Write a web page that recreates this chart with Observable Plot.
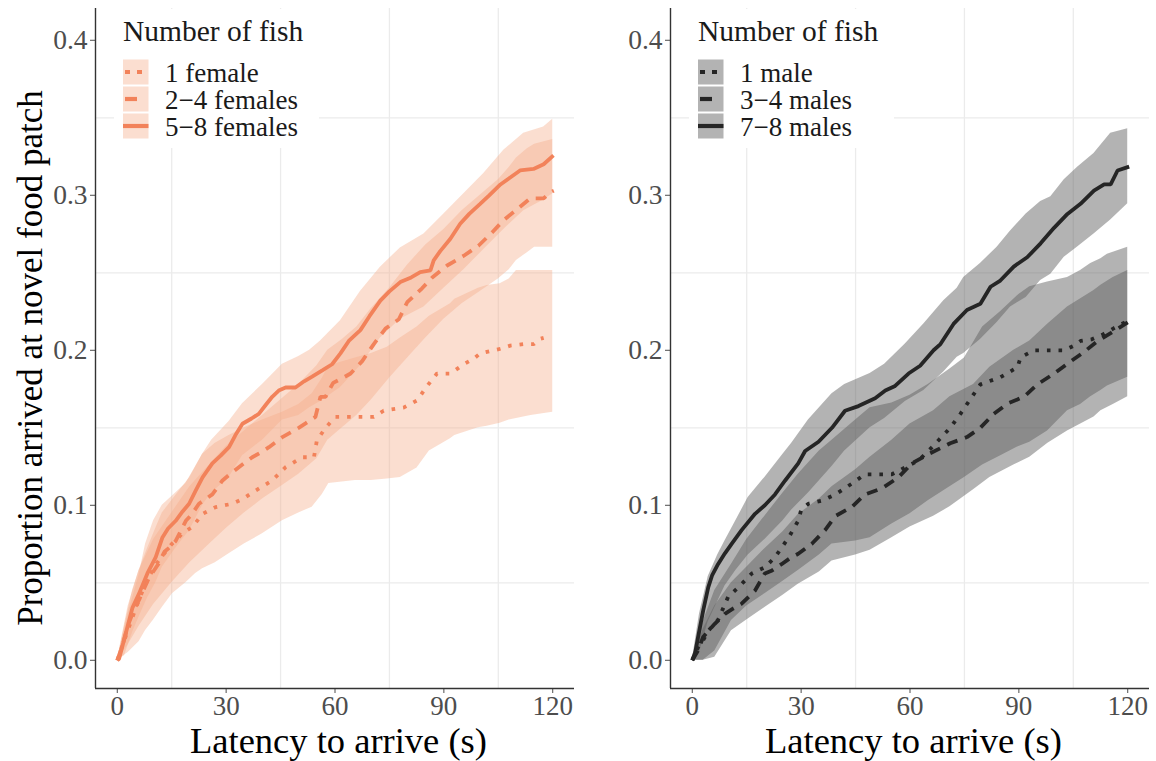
<!DOCTYPE html>
<html>
<head>
<meta charset="utf-8">
<script src="https://cdn.jsdelivr.net/npm/d3@7"></script>
<script src="https://cdn.jsdelivr.net/npm/@observablehq/plot@0.6"></script>
<style>
  html, body { margin: 0; padding: 0; background: #fff; }
  #chart { position: relative; width: 1156px; height: 761px; overflow: hidden; background: #fff; }
  #chart svg { position: absolute; top: 0; }
</style>
</head>
<body>
<div id="chart"></div>
<script>
// ---------- tick / label data ----------
const xTicks = [0, 30, 60, 90, 120];
const yTicks = [0, 0.1, 0.2, 0.3, 0.4];
const xMinorGrid = [15, 45, 75, 105];
const yMinorGrid = [0.05, 0.15, 0.25, 0.35];
const legendTitle = "Number of fish";
const femaleLabels = ["1 female", "2\u22124 females", "5\u22128 females"];
const maleLabels = ["1 male", "3\u22124 males", "7\u22128 males"];
const xTitle = "Latency to arrive (s)";
const yTitle = "Proportion arrived at novel food patch";

// ---------- female series: [time, proportion] ----------
const female1Line = [[0,0],[1.5,0.01],[3,0.02],[5,0.033],[7,0.045],[9,0.055],[11,0.063],[13.3,0.07],[15,0.075],[16.4,0.078],[18,0.082],[20.7,0.086],[23.5,0.0945],[27.1,0.0988],[31.7,0.101],[34.5,0.104],[38.1,0.1095],[42.7,0.116],[46.4,0.1246],[51,0.131],[54.2,0.131],[55,0.1418],[57.4,0.15],[60.1,0.157],[66,0.157],[70.7,0.157],[73.4,0.161],[78.9,0.163],[82.6,0.1676],[85.4,0.177],[88.1,0.185],[91.8,0.185],[95.5,0.191],[98.2,0.1945],[100,0.198],[105.6,0.201],[108.3,0.203],[112,0.204],[114.8,0.204],[116.6,0.2074],[117.5,0.208]];
const female24Line = [[0,0],[1.5,0.01],[3,0.023],[4.5,0.032],[6.2,0.04],[8.7,0.053],[11.3,0.062],[13,0.07],[14.5,0.073],[16.1,0.077],[18.9,0.09],[20.5,0.094],[22.5,0.101],[26.2,0.107],[29,0.116],[31,0.12],[33.5,0.1246],[37.2,0.131],[39.5,0.134],[41.8,0.1375],[45.5,0.144],[50,0.15],[52,0.153],[54.6,0.157],[56,0.17],[57.4,0.17],[59.5,0.179],[62,0.182],[64.3,0.185],[67.5,0.193],[70.7,0.204],[73.9,0.214],[77.6,0.22],[79.9,0.231],[84,0.24],[86.8,0.247],[90.9,0.2547],[95.5,0.261],[99.6,0.2676],[103.3,0.276],[106.5,0.284],[110.2,0.291],[113.8,0.298],[117.5,0.298],[119.3,0.302],[120.3,0.303]];
const female58Line = [[0,0],[0.5,0.001],[2.3,0.017],[4.2,0.034],[6,0.043],[8.3,0.056],[10.6,0.0665],[12.4,0.079],[14,0.085],[16.1,0.09],[18,0.096],[19.8,0.101],[21.5,0.109],[23.5,0.118],[26.2,0.127],[28.5,0.132],[30.8,0.1375],[32.5,0.145],[34.5,0.1526],[37,0.156],[39,0.159],[41,0.165],[42.7,0.17],[44.5,0.174],[46.4,0.176],[49.1,0.176],[51.5,0.18],[53.7,0.183],[56.5,0.187],[59.2,0.191],[61.5,0.198],[63.8,0.206],[67,0.213],[69.5,0.222],[72.5,0.232],[75,0.238],[78,0.244],[81,0.247],[83.5,0.2504],[86.3,0.2515],[87.2,0.258],[89,0.264],[91.8,0.272],[94.5,0.2816],[97,0.288],[100,0.2945],[102.5,0.3],[105.6,0.307],[108,0.311],[111,0.316],[114.7,0.317],[117.5,0.32],[120.2,0.3257]];

// bands: [time, lower, upper]
const female1Band = [[0,0,0],[3,0.005,0.03],[6,0.012,0.055],[7.8,0.0192,0.075],[10,0.026,0.09],[12.4,0.034,0.1],[15.2,0.043,0.106],[18.9,0.05,0.114],[21.6,0.056,0.125],[23.5,0.059,0.133],[27,0.063,0.14],[30.8,0.0687,0.145],[35,0.075,0.15],[40,0.0816,0.155],[45.5,0.09,0.16],[50,0.095,0.165],[53.7,0.0988,0.172],[56.5,0.107,0.182],[58.3,0.114,0.19],[65.6,0.116,0.195],[70,0.116,0.198],[74.4,0.117,0.202],[78,0.118,0.208],[82.6,0.124,0.215],[86,0.135,0.222],[91.8,0.143,0.23],[93,0.145,0.233],[99.5,0.15,0.24],[101.9,0.151,0.2418],[105.5,0.153,0.243],[108,0.155,0.246],[110,0.156,0.2515],[114,0.158,0.2515],[120,0.16,0.2515]];
const female24Band = [[0,0,0],[3,0.01,0.035],[6,0.022,0.058],[10,0.036,0.078],[15,0.05,0.095],[20,0.063,0.112],[25,0.074,0.125],[30,0.085,0.138],[35,0.095,0.148],[40,0.104,0.158],[45,0.112,0.168],[50,0.12,0.178],[55,0.13,0.19],[58,0.142,0.2],[62,0.15,0.207],[66,0.158,0.215],[70,0.168,0.227],[75,0.182,0.24],[80,0.195,0.255],[85,0.208,0.268],[90,0.22,0.278],[95,0.23,0.29],[100,0.238,0.3],[105,0.246,0.31],[108,0.252,0.318],[110,0.258,0.324],[113,0.263,0.33],[115,0.2665,0.333],[120,0.2665,0.336]];
const female58Band = [[0,0,0],[2,0.003,0.022],[4.2,0.018,0.045],[6,0.028,0.058],[8.3,0.04,0.072],[10.6,0.05,0.085],[12.4,0.06,0.095],[16,0.072,0.106],[20,0.084,0.118],[23.5,0.1,0.133],[26,0.108,0.142],[30.8,0.118,0.154],[34.5,0.132,0.1655],[40,0.142,0.178],[45.5,0.155,0.191],[50,0.158,0.196],[53,0.163,0.2],[56,0.167,0.206],[61.5,0.176,0.219],[67,0.19,0.238],[72.5,0.208,0.2536],[78,0.22,0.266],[84.5,0.228,0.275],[90,0.24,0.288],[95.5,0.252,0.301],[101,0.265,0.314],[106.5,0.278,0.329],[112,0.29,0.34],[117.5,0.297,0.344],[120,0.301,0.349]];

// ---------- male series ----------
const male1Line = [[0,0],[1.5,0.008],[3,0.013],[4.4,0.019],[7.1,0.026],[9.9,0.041],[12.7,0.047],[16.4,0.056],[20,0.06],[22.8,0.0665],[26.5,0.079],[29.2,0.09],[30,0.097],[32,0.101],[35.7,0.103],[39.4,0.107],[44,0.114],[47.6,0.12],[51.3,0.12],[55,0.12],[58.7,0.1245],[62.4,0.129],[66.1,0.1375],[71.1,0.15],[73.9,0.159],[79.4,0.178],[84.9,0.1826],[89.6,0.189],[90.5,0.1955],[94.2,0.2],[99.7,0.2],[102.5,0.2],[105.2,0.203],[107,0.206],[110,0.207],[113,0.21],[116,0.214],[120,0.219]];
const male34Line = [[0,0],[1.5,0.006],[3,0.015],[6.2,0.0235],[9,0.03],[11,0.033],[13.6,0.0365],[17.3,0.045],[20,0.056],[22,0.058],[24.6,0.062],[27,0.066],[29.2,0.0687],[32.9,0.075],[36.6,0.084],[39.4,0.093],[44,0.099],[47.6,0.107],[52.3,0.111],[56.8,0.118],[60.5,0.127],[65.1,0.133],[71.1,0.14],[75.7,0.144],[79.4,0.15],[83.1,0.159],[86.8,0.1655],[91.4,0.17],[95.1,0.178],[99.7,0.185],[103.8,0.192],[108,0.199],[111.7,0.206],[115.3,0.211],[120,0.218]];
const male78Line = [[0,0],[0.8,0.005],[1.6,0.015],[3,0.032],[4.4,0.047],[5.5,0.055],[7.1,0.062],[9,0.069],[10.8,0.075],[13.6,0.084],[17.3,0.0945],[20,0.1],[22.8,0.107],[25.6,0.116],[29.2,0.127],[31.1,0.135],[34.8,0.141],[38.5,0.15],[42.1,0.161],[45.8,0.164],[50.4,0.169],[53.2,0.174],[55.9,0.177],[59.6,0.185],[62.8,0.19],[66.5,0.2],[68.4,0.204],[72,0.217],[75.7,0.226],[79.4,0.23],[82.2,0.241],[84.9,0.245],[88.6,0.254],[92.3,0.26],[96,0.269],[99.7,0.279],[103.4,0.288],[107,0.2945],[110.7,0.303],[113.5,0.307],[115.3,0.307],[117.2,0.316],[120.4,0.3185]];

const male1Band = [[0,0,0],[3,0,0.025],[6.2,0.006,0.045],[10.8,0.0257,0.062],[15,0.035,0.078],[20,0.043,0.093],[25,0.051,0.108],[29.2,0.058,0.12],[35,0.068,0.135],[38.5,0.075,0.142],[45,0.077,0.155],[49,0.079,0.163],[55,0.088,0.166],[60,0.0945,0.171],[65,0.103,0.178],[71,0.112,0.188],[75,0.118,0.195],[80,0.126,0.215],[85,0.132,0.225],[90,0.138,0.236],[93,0.1407,0.241],[97.9,0.148,0.244],[103.4,0.161,0.247],[107,0.165,0.2515],[109.8,0.17,0.256],[112.6,0.174,0.259],[114.4,0.177,0.262],[120,0.1826,0.2665]];
const male34Band = [[0,0,0],[3,0,0.02],[6.2,0.002,0.035],[10.8,0.019,0.05],[15,0.026,0.06],[20,0.034,0.072],[25,0.042,0.083],[29.2,0.049,0.094],[35,0.057,0.104],[38.5,0.064,0.112],[45,0.068,0.123],[49,0.071,0.131],[55,0.079,0.142],[60,0.086,0.1525],[66.5,0.093,0.161],[71,0.099,0.17],[77.5,0.11,0.178],[82,0.118,0.189],[88.6,0.126,0.2],[93,0.131,0.206],[98,0.14,0.217],[103.4,0.148,0.228],[110.7,0.157,0.2385],[112.6,0.161,0.242],[116,0.165,0.247],[120,0.17,0.2515]];
const male78Band = [[0,0,0],[2,0.005,0.03],[4.4,0.025,0.054],[7,0.038,0.068],[9,0.048,0.077],[12,0.058,0.09],[15.4,0.068,0.105],[20,0.078,0.118],[25,0.09,0.133],[27.4,0.097,0.14],[32,0.108,0.155],[38.5,0.125,0.172],[42,0.135,0.178],[49,0.15,0.185],[53,0.156,0.191],[58.7,0.167,0.204],[63.8,0.174,0.217],[69.3,0.186,0.232],[73,0.1955,0.24],[74.8,0.198,0.247],[79.4,0.207,0.256],[84,0.218,0.2665],[87.7,0.228,0.277],[92,0.234,0.288],[96,0.245,0.296],[98.8,0.249,0.299],[102.5,0.26,0.31],[106.1,0.2665,0.318],[110.7,0.275,0.327],[115.3,0.284,0.34],[120,0.2945,0.343]];

// ---------- drawing ----------
const FONT = "'Liberation Serif', 'Times New Roman', serif";
const lineDash = ["3.6,8", "11,8", null];
const keyDash = [{d: "5,7", off: -2}, {d: "12,30", off: -2}, {d: null, off: 0}];

function toLine(arr) { return arr.map(([t, v]) => ({t, v})); }
function toBand(arr) { return arr.map(([t, lo, hi]) => ({t, lo, hi})); }

function makePanel(cfg) {
  const marks = [
    Plot.ruleX(xMinorGrid, {stroke: "#ebebeb", strokeWidth: 1.3}),
    Plot.ruleY(yMinorGrid, {stroke: "#ebebeb", strokeWidth: 1.3}),
  ];
  cfg.bands.forEach(b => marks.push(
    Plot.areaY(toBand(b), {x: "t", y1: "lo", y2: "hi", fill: cfg.bandFill, fillOpacity: cfg.bandOpacity})
  ));
  cfg.lines.forEach((l, i) => marks.push(
    Plot.line(toLine(l), {x: "t", y: "v", stroke: cfg.lineColor, strokeWidth: 3.8,
      strokeDasharray: lineDash[i] || undefined, strokeLinecap: "butt", strokeLinejoin: "miter"})
  ));
  marks.push(
    Plot.axisX({ticks: xTicks, tickSize: 5, tickPadding: 2, fontSize: 27, color: "#4d4d4d", label: null}),
    Plot.axisY({ticks: yTicks, tickFormat: d3.format(".1f"), tickSize: 5, tickPadding: 3, fontSize: 27.5, color: "#4d4d4d", label: null}),
    Plot.ruleX([-6], {stroke: "#333333", strokeWidth: 1.4}),
    Plot.ruleY([-0.0182], {stroke: "#333333", strokeWidth: 1.4})
  );
  const svg = Plot.plot({
    width: cfg.width,
    height: 761,
    marginLeft: 95,
    marginRight: cfg.marginRight,
    marginTop: 8,
    marginBottom: 73,
    x: {domain: [-6, 126]},
    y: {domain: [-0.0182, 0.4205]},
    style: {fontFamily: FONT, fontSize: "27px", background: "transparent", overflow: "visible"},
    marks
  });
  svg.style.left = cfg.left + "px";

  const s = d3.select(svg);
  // x axis title
  const cx = 95 + (cfg.width - 95 - cfg.marginRight) / 2;
  s.append("text").attr("x", cx + 4).attr("y", 753)
    .attr("text-anchor", "middle").attr("font-family", FONT).attr("font-size", 36.5)
    .attr("fill", "#000").text(xTitle);
  if (cfg.yTitle) {
    s.append("text").attr("transform", "translate(42,358) rotate(-90)")
      .attr("text-anchor", "middle").attr("font-family", FONT).attr("font-size", 35)
      .attr("fill", "#000").text(yTitle);
  }
  // legend
  const g = s.append("g").attr("text-anchor", "start");
  g.append("rect").attr("x", 114).attr("y", 9).attr("width", 205).attr("height", 139).attr("fill", "#fff");
  g.append("text").attr("x", 123).attr("y", 41).attr("text-anchor", "start").attr("font-family", FONT).attr("font-size", 29.5)
    .attr("fill", "#1a1a1a").text(legendTitle);
  cfg.labels.forEach((lab, i) => {
    const top = 59.5 + 27 * i;
    const cy = top + 12.5;
    g.append("rect").attr("x", 123).attr("y", top).attr("width", 25.5).attr("height", 25)
      .attr("fill", cfg.bandFill).attr("fill-opacity", cfg.bandOpacity);
    const ln = g.append("line").attr("x1", 123).attr("x2", 148.5).attr("y1", cy).attr("y2", cy)
      .attr("stroke", cfg.lineColor).attr("stroke-width", 4.2).attr("stroke-linecap", "butt");
    if (keyDash[i].d) ln.attr("stroke-dasharray", keyDash[i].d).attr("stroke-dashoffset", keyDash[i].off);
    g.append("text").attr("x", 165).attr("y", cy + 9.5).attr("text-anchor", "start").attr("font-family", FONT).attr("font-size", 27)
      .attr("fill", "#1a1a1a").text(lab);
  });
  return svg;
}

const chart = document.getElementById("chart");
chart.appendChild(makePanel({
  left: 0, width: 576, marginRight: 2,
  lines: [female1Line, female24Line, female58Line],
  bands: [female1Band, female24Band, female58Band],
  lineColor: "#F2825A", bandFill: "#F6AD8A", bandOpacity: 0.4,
  labels: femaleLabels, yTitle: true
}));
chart.appendChild(makePanel({
  left: 575, width: 580, marginRight: 6,
  lines: [male1Line, male34Line, male78Line],
  bands: [male1Band, male34Band, male78Band],
  lineColor: "#252525", bandFill: "#5e5e5e", bandOpacity: 0.47,
  labels: maleLabels, yTitle: false
}));
</script>
</body>
</html>
